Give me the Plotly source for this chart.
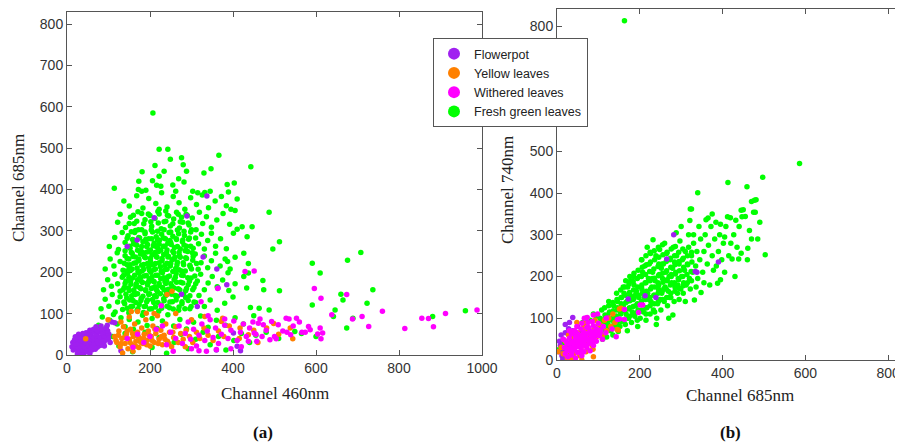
import plotly.graph_objects as go

# ---------------- Panel (a): Channel 460nm vs Channel 685nm ----------------
flowerpot_a = [
    (25,3),(32,6),(40,2),(48,8),(55,4),
    (15,12),(22,14),(30,10),(38,13),(45,11),(52,15),(60,12),(68,14),
    (12,20),(19,22),(27,18),(34,21),(42,19),(50,23),(57,20),(65,22),(73,19),(80,23),
    (14,30),(21,27),(29,29),(36,26),(44,30),(51,27),(59,31),(66,28),(74,30),(82,27),(89,31),
    (18,36),(25,38),(33,35),(40,39),(48,36),(55,40),(63,37),(70,39),(78,35),(85,38),(93,36),
    (26,45),(34,43),(42,46),(49,44),(57,47),(65,43),(72,46),(80,44),(88,47),(96,43),
    (38,52),(46,54),(54,51),(62,55),(70,52),(78,56),(86,53),(94,55),(101,50),
    (55,60),(64,62),(73,59),(82,63),(90,61),(98,58),
    (70,68),(82,70),(95,66),(28,50),(20,44),(100,40),(104,30),(90,22),(35,0),
    (337,384),(210,332),(289,336),(145,262),(169,278),(328,237),(361,208),(385,170),
    (364,162),(314,117),(276,147),(401,53),(410,21),(418,10),(108,80),(97,72),(115,78),
    (360,12),(130,10),
]

yellow_a = [
    (115,45),(120,30),(125,58),(128,20),(132,40),(136,68),(140,28),(143,50),(147,15),(150,38),
    (153,62),(157,25),(160,45),(163,75),(166,33),(170,55),(173,18),(176,40),(180,65),(183,28),
    (186,50),(190,85),(193,35),(196,58),(200,22),(203,45),(207,70),(210,30),(214,52),(218,95),
    (222,38),(226,60),(230,25),(234,48),(238,75),(242,33),(247,55),(252,20),(257,42),(262,68),
    (268,30),(274,52),(280,38),(287,60),(295,45),(303,30),(312,55),(320,40),(330,65),(340,48),
    (352,35),(365,58),(378,45),(391,70),(134,5),(159,9),(241,146),(253,154),(191,101),(155,105),
    (332,93),(375,89),(372,81),(481,65),(498,76),(544,39),(538,65),(437,49),(417,65),(45,39),
    (99,85),(262,100),(210,100),(150,92),(415,40),(460,30),(170,105),(300,85),(130,80),(285,20),
    (450,60),(510,50),
    (118,35),(124,48),(131,28),(138,42),(145,58),(152,30),(158,52),(165,22),(172,44),(178,30),
    (185,40),(192,25),(198,48),(205,35),(212,62),(220,28),(228,45),(236,38),(245,28),(255,55),
]

withered_a = [
    (988,109),(912,100),(871,88),(855,89),(883,68),(814,64),(760,106),(727,69),(711,93),(688,87),
    (674,146),(638,97),(612,137),(596,161),(610,65),(616,53),(604,51),(612,39),(582,69),(586,61),
    (566,55),(574,55),(553,89),(535,87),(528,89),(539,49),(530,55),(509,73),(493,81),(504,39),
    (489,37),(473,73),(461,77),(465,87),(451,53),(457,33),(437,33),(429,202),(451,203),(323,129),
    (363,161),(380,87),(336,9),(256,9),(318,10),(360,13),(159,19),(227,119),
    (250,55),(262,40),(270,70),(278,28),(285,52),(292,80),(298,38),(305,62),(312,22),(318,48),
    (325,75),(332,35),(338,58),(345,85),(352,42),(358,65),(365,28),(372,50),(380,72),(388,40),
    (395,60),(402,82),(410,35),(418,55),(425,75),(432,45),(440,65),(448,80),(455,50),(470,45),
    (480,60),(500,45),(520,58),(545,70),(560,80),(200,45),(215,62),(185,30),(230,70),(240,25),
    (170,50),(145,40),(420,20),(395,15),(300,15),(340,95),
]

fresh_a_outer = [
    (207,585),(222,497),(243,497),(276,477),(366,483),(443,455),(249,473),(212,458),(280,460),
    (181,443),(234,444),(288,444),(347,450),(330,440),(222,432),(269,426),(173,420),(206,421),
    (282,418),(114,403),(216,410),(226,408),(386,412),(403,416),(172,400),(180,396),(255,411),
    (303,396),(332,393),(345,396),(389,394),(137,372),(410,377),(487,345),(446,310),(122,321),
    (150,360),(168,385),(183,355),(197,378),(214,366),(228,392),(241,358),(256,383),(270,368),
    (284,352),(298,380),(312,364),(326,387),(341,356),(357,372),(372,383),(384,361),(395,352),
    (222,352),(262,396),(190,398),(315,392),(405,349),
    (128,340),(141,308),(153,333),(162,318),(171,346),(180,303),(188,327),(196,341),(204,311),
    (212,330),(219,347),(227,305),(234,322),(242,338),(249,312),(257,329),(264,345),(271,307),
    (279,321),(287,340),(294,314),(302,331),(311,303),(319,345),(327,318),(336,334),(348,309),
    (361,326),(376,342),(392,316),(410,304),(434,286),(165,301),(238,348),(276,333),
    (102,262),(115,284),(124,255),(133,296),(140,272),(147,288),(152,258),(158,279),(163,296),
    (168,265),(173,284),(178,252),(183,274),(188,293),(192,262),(197,281),(201,254),(206,297),
    (210,270),(215,286),(219,258),(223,278),(228,292),(232,263),(237,281),(241,254),(246,296),
    (250,271),(255,287),(259,260),(264,279),(269,293),(273,256),(278,274),(283,289),(288,263),
    (293,280),(298,297),(304,258),(310,283),(317,269),(324,292),(331,256),(339,277),(348,294),
    (358,263),(370,281),(384,257),(401,294),(422,310),(426,246),(160,268),(243,270),(285,252),
    (215,262),(190,280),
    (92,208),(104,232),(113,215),(121,247),(128,226),(135,205),(140,240),(145,218),(149,232),
    (153,204),(157,246),(161,222),(165,237),(169,210),(173,228),(177,244),(181,203),(185,219),
    (189,235),(193,249),(197,212),(201,227),(205,242),(209,206),(213,221),(217,236),(221,250),
    (225,213),(229,228),(233,243),(237,207),(241,222),(245,238),(249,215),(253,230),(257,247),
    (262,209),(266,224),(271,240),(276,203),(281,218),(286,235),(291,250),(297,213),(303,229),
    (309,244),(316,207),(323,223),(331,239),(339,211),(348,228),(358,246),(369,215),(381,232),
    (393,208),(405,236),(437,221),(388,199),(387,226),(200,218),(230,202),(185,241),(260,236),
    (150,212),
    (88,158),(98,182),(107,166),(115,195),(122,172),(128,154),(133,188),(138,163),(142,179),
    (146,197),(150,156),(154,171),(158,186),(162,151),(166,166),(170,182),(174,198),(178,160),
    (182,175),(186,191),(190,155),(194,169),(198,184),(202,200),(206,162),(210,177),(214,193),
    (218,153),(222,168),(226,184),(230,199),(234,158),(238,173),(243,189),(248,152),(253,166),
    (258,182),(263,197),(268,160),(274,176),(280,192),(286,155),(292,170),(299,186),(306,163),
    (314,179),(322,195),(331,158),(340,174),(350,190),(362,165),(375,181),(390,156),(405,172),
    (433,162),(426,190),(472,180),(474,158),(512,155),(196,176),(176,188),(240,180),(212,165),
    (82,112),(92,135),(101,118),(109,146),(116,104),(122,128),(128,141),(134,110),(139,124),
    (144,138),(149,102),(154,117),(159,132),(164,146),(169,108),(174,122),(179,137),(184,103),
    (189,118),(194,133),(199,148),(204,112),(209,127),(215,141),(221,106),(227,121),(233,136),
    (240,150),(247,114),(254,129),(261,144),(269,108),(277,124),(286,139),(296,112),(306,128),
    (318,144),(331,117),(345,133),(362,108),(380,125),(400,140),(442,115),(463,113),(487,109),
    (591,121),(646,109),
    (76,72),(85,92),(94,66),(103,84),(112,98),(121,75),(130,90),(140,68),(150,86),(160,62),
    (171,80),(182,96),(193,71),(205,88),(217,64),(230,82),(243,97),(257,70),(272,86),(288,63),
    (305,79),(322,94),(340,67),(360,84),(382,72),(405,90),(425,75),(450,95),(549,57),(642,93),
    (674,65),(689,89),(881,93),(960,107),
    (110,45),(125,22),(140,52),(158,8),(172,35),(188,55),(205,18),(222,42),(240,4),(258,30),
    (275,50),(292,15),(310,38),(328,55),(345,25),(365,45),(383,12),(402,35),(420,52),(440,30),
    (455,48),(480,55),(510,40),(565,52),(600,45),
    (610,198),(591,222),(512,274),(496,256),(660,147),(665,133),(676,229),(708,248),(723,125),
    (737,158),(437,198),
]

fresh_a_core = [
    (145,113),(158,118),(171,112),(186,117),(199,111),(213,116),(228,113),(241,118),(256,111),(270,116),(284,112),(299,117),
    (137,128),(151,133),(166,127),(178,132),(192,129),(206,134),(219,127),(234,131),(248,128),(263,133),(277,129),(292,132),(310,127),
    (142,147),(156,143),(170,148),(183,142),(197,146),(211,143),(225,148),(238,144),(252,147),(266,142),(281,146),(296,143),
    (135,158),(148,162),(161,157),(175,163),(189,158),(203,161),(216,157),(230,163),(244,159),(258,162),(272,157),(288,161),(303,158),
    (140,173),(153,178),(167,172),(180,177),(194,174),(208,178),(222,173),(236,177),(250,172),(264,176),(279,174),(295,178),(310,172),
    (136,192),(149,188),(163,193),(177,187),(191,192),(205,189),(219,193),(233,187),(247,191),(261,188),(276,193),(291,187),(308,191),
    (143,203),(157,208),(171,202),(185,207),(199,204),(213,208),(227,203),(241,207),(255,202),(270,206),(285,203),(300,208),
    (138,222),(152,218),(166,223),(180,217),(194,221),(208,218),(222,223),(236,217),(250,221),(265,218),(280,223),(296,217),(312,221),
    (145,233),(159,238),(173,232),(187,237),(201,234),(215,238),(229,233),(243,237),(258,232),(273,236),(288,233),(304,238),
    (140,252),(155,248),(170,253),(184,247),(198,251),(212,248),(226,253),(240,247),(255,251),(270,248),(286,253),(302,247),
    (150,263),(165,268),(180,262),(194,267),(208,264),(222,268),(236,263),(251,267),(266,262),(282,266),(298,263),
    (145,282),(160,278),(175,283),(190,277),(204,281),(218,278),(233,283),(248,277),(263,281),(279,278),(295,283),
    (155,298),(172,303),(188,297),(203,302),(218,299),(234,303),(250,297),(266,302),(282,299),(300,303),
    (150,318),(168,323),(185,317),(202,322),(220,319),(238,323),(255,317),(273,322),(292,319),
    (160,338),(180,342),(200,337),(222,341),(245,336),(268,340),(290,337),
]

fresh_a = fresh_a_outer + fresh_a_core

# ---------------- Panel (b): Channel 685nm vs Channel 740nm ----------------
flowerpot_b = [
    (5,20),(8,35),(12,10),(15,50),(18,25),(20,65),(22,5),(25,40),(28,75),(30,15),(33,55),
    (36,30),(38,70),(40,8),(14,2),(26,64),(38,102),(10,60),(45,60),(50,80),(20,85),(30,90),
    (55,45),(60,65),(18,0),(6,45),
    (282,300),(265,242),(390,235),(338,210),(334,212),(239,150),(213,154),(172,146),(123,101),
    (70,100),
]

yellow_b = [
    (2,20),(10,30),(15,15),(20,45),(25,5),(30,25),(35,2),(38,55),(42,18),(45,38),(50,65),
    (55,10),(58,30),(62,50),(65,80),(70,20),(75,40),(78,60),(82,64),(85,35),(88,8),(90,75),
    (95,55),(100,85),(105,84),(110,60),(115,95),(120,70),(125,100),(130,80),(135,110),(140,90),
    (148,72),(155,124),(66,88),(92,95),(48,90),(28,60),(72,70),(40,12),(60,0),(80,48),
    (87,26),(23,12),(151,122),(70,74),(145,73),
]

withered_b = [
    (20,15),(28,22),(35,12),(42,25),(50,18),(58,28),(65,20),(72,30),(80,22),(88,35),
    (18,30),(25,38),(32,28),(40,40),(48,32),(55,45),(62,36),(70,48),(78,40),(86,52),(95,45),
    (102,58),(22,45),(30,52),(38,44),(45,56),(53,48),(60,60),(68,52),(75,64),(83,56),(90,68),
    (98,60),(106,72),(35,62),(42,70),(50,62),(58,74),(65,66),(72,78),(80,70),(88,82),(95,75),
    (112,80),(48,80),(60,88),(75,90),(85,92),(100,88),(30,70),(15,50),(110,50),(118,65),(26,8),
    (45,5),(60,10),(40,30),(65,40),(85,42),(55,35),
    (24,26),(33,40),(44,48),(52,40),(62,48),(70,58),(78,50),(92,58),(100,70),(68,35),(82,62),
    (36,18),(56,55),(76,78),(90,50),(104,64),(46,66),(58,20),
    (66,100),(88,108),(119,100),(163,121),(146,97),(201,132),(133,74),(207,132),(197,114),
    (151,98),(143,56),(98,110),(73,102),(163,97),
]

fresh_b_outer = [
    (5,25),(10,35),(15,20),(20,40),(28,30),(35,45),(42,35),(48,55),(12,45),
    (55,50),(60,70),(65,45),(70,85),(75,60),(80,95),(85,55),(90,75),(95,105),(98,60),(62,90),
    (88,110),(72,40),
    (102,65),(105,90),(108,120),(112,75),(116,100),(120,55),(123,85),(127,115),(130,70),(133,95),
    (137,130),(140,80),(143,105),(146,140),(148,68),(110,50),(125,140),(135,60),(145,120),(150,95),
    (152,80),(154,115),(156,150),(158,95),(160,130),(162,160),(165,85),(167,110),(169,140),
    (171,175),(173,100),(175,125),(177,155),(180,90),(182,115),(184,145),(186,180),(188,105),
    (190,130),(192,165),(194,95),(196,120),(198,150),(199,200),(160,175),(170,70),(185,200),
    (195,80),(155,135),(178,190),(163,120),(189,155),
    (201,100),(203,135),(205,170),(207,210),(209,115),(211,150),(213,185),(215,95),(217,125),
    (219,160),(221,195),(223,230),(225,110),(227,140),(229,175),(231,210),(233,120),(235,155),
    (237,190),(239,250),(241,100),(243,135),(245,170),(247,205),(249,145),(204,240),(218,270),
    (232,288),(240,85),(212,225),(226,255),(246,230),(236,115),(208,160),(244,185),(222,145),
    (230,195),(215,110),(248,265),
    (251,120),(253,160),(255,195),(257,230),(259,140),(261,175),(263,210),(265,255),(267,130),
    (269,165),(271,200),(273,240),(275,150),(277,185),(279,220),(281,270),(283,140),(285,175),
    (287,210),(289,250),(291,160),(293,195),(295,230),(297,285),(299,170),(260,280),(280,108),
    (288,305),(270,100),(295,145),(252,220),(266,190),(276,205),(284,235),(292,180),(258,170),
    (272,150),
    (301,200),(303,240),(305,160),(308,215),(310,260),(312,180),(315,230),(318,300),(320,195),
    (322,170),(325,250),(328,210),(330,280),(332,144),(335,225),(338,260),(340,195),(343,320),
    (345,240),(348,162),(322,362),(325,362),(321,334),(340,401),(330,300),(310,140),(318,270),
    (300,320),(336,175),(347,290),(306,185),
    (352,210),(355,260),(358,300),(360,336),(363,230),(366,275),(369,180),(372,320),(375,250),
    (378,215),(381,290),(384,330),(388,184),(390,260),(393,300),(395,192),(398,240),(355,185),
    (365,340),(385,225),(375,350),(395,325),
    (402,280),(405,210),(408,320),(412,343),(413,425),(415,250),(419,341),(423,242),(427,300),
    (430,200),(435,270),(439,242),(440,320),(445,359),(445,256),(447,343),(450,360),(420,280),
    (432,335),(405,295),
    (455,344),(459,415),(461,268),(465,310),(470,290),(475,354),(477,383),(479,354),(481,384),
    (485,290),(490,330),(497,438),(503,252),(586,471),(163,813),(460,240),(470,380),
]

fresh_b_core = [
    (105,62),(106,80),(104,100),
    (115,72),(114,88),(116,108),(115,125),
    (125,77),(124,95),(126,112),(125,130),
    (135,82),(134,100),(136,118),(135,138),
    (145,87),(144,105),(146,125),(145,145),(144,160),
    (155,92),(154,110),(156,130),(155,150),(154,168),
    (165,98),(164,118),(166,137),(165,155),(164,175),(166,190),
    (175,105),(174,122),(176,142),(175,162),(174,182),(176,200),
    (185,110),(184,128),(186,148),(185,168),(184,188),(186,208),
    (195,115),(194,135),(196,155),(195,175),(194,195),(196,215),
    (205,120),(204,140),(206,160),(205,180),(204,200),(206,222),(205,240),
    (215,125),(214,145),(216,165),(215,185),(214,205),(216,228),(215,250),
    (225,130),(224,150),(226,170),(225,190),(224,212),(226,235),(225,258),
    (235,135),(234,155),(236,175),(235,196),(234,218),(236,240),(235,262),
    (245,140),(244,160),(246,180),(245,202),(244,224),(246,246),(245,270),
    (255,145),(254,165),(256,186),(255,208),(254,230),(256,252),(255,276),
    (265,150),(264,170),(266,192),(265,214),(264,236),(266,258),
    (275,160),(274,180),(276,200),(275,222),(274,244),(276,266),
    (285,165),(284,185),(286,206),(285,228),(284,250),(286,272),
    (295,172),(294,192),(296,214),(295,236),(294,258),
    (305,178),(304,200),(306,222),(305,244),(304,266),
    (315,185),(314,205),(316,228),(315,250),
    (325,190),(324,212),(326,235),(325,258),
]

fresh_b = fresh_b_outer + fresh_b_core

series_names = ["Flowerpot", "Yellow leaves", "Withered leaves", "Fresh green leaves"]
series_colors = ["#A020F0", "#FF8000", "#FF00FF", "#00FF00"]

x_ticks_a = [0, 200, 400, 600, 800, 1000]
y_ticks = [0, 100, 200, 300, 400, 500, 600, 700, 800]
x_ticks_b = [0, 200, 400, 600, 800]

# The page body has an 8px margin, so the figure is drawn 8px right/down.
OFF = 8
W, H = 903, 444 - OFF


def fx(px):
    return (px - OFF) / W


def fy(py):
    return 1 - (py - OFF) / H


fig = go.Figure()

panels = [
    ("x", "y", [flowerpot_a, yellow_a, withered_a, fresh_a], True),
    ("x2", "y2", [flowerpot_b, yellow_b, withered_b, fresh_b], False),
]
draw_order = [3, 0, 1, 2]  # green at bottom, withered on top
for xa, ya, data, show in panels:
    for i in draw_order:
        pts = data[i]
        fig.add_trace(go.Scatter(
            x=[p[0] for p in pts], y=[p[1] for p in pts],
            mode="markers", xaxis=xa, yaxis=ya,
            name=series_names[i], legendgroup=series_names[i], showlegend=show,
            legendrank=i + 1,
            marker=dict(color=series_colors[i], size=5.5, line=dict(width=0)),
            hoverinfo="skip",
        ))

axis_common = dict(
    showline=True, linecolor="#555555", linewidth=1, mirror="ticks",
    ticks="inside", ticklen=5, tickcolor="#555555", showgrid=False, zeroline=False,
    automargin=False,
    tickfont=dict(family="Liberation Sans, Arial", size=14, color="#333333"),
)

fig.update_layout(
    width=W, height=H,
    margin=dict(l=0, r=0, t=0, b=0, autoexpand=False),
    paper_bgcolor="white", plot_bgcolor="white",
    showlegend=True,
    xaxis=dict(domain=[fx(67), fx(482)], range=[0, 1000], tickvals=x_ticks_a, anchor="y", **axis_common),
    yaxis=dict(domain=[fy(355), fy(12)], range=[0, 829], tickvals=y_ticks, anchor="x", **axis_common),
    xaxis2=dict(domain=[fx(557), fx(903)], range=[0, 836], tickvals=x_ticks_b, anchor="y2", **axis_common),
    yaxis2=dict(domain=[fy(360), fy(9)], range=[0, 841], tickvals=y_ticks, anchor="x2", **axis_common),
    legend=dict(
        x=fx(433), y=fy(38), xanchor="left", yanchor="top",
        bgcolor="white", bordercolor="#555555", borderwidth=1,
        font=dict(family="Liberation Sans, Arial", size=12.5, color="#222222"),
        itemsizing="constant", tracegroupgap=0,
    ),
)

title_font = dict(family="Liberation Serif, Times New Roman", size=17, color="#222222")
annotations = [
    dict(text="Channel 460nm", x=fx(275), y=fy(393)),
    dict(text="Channel 685nm", x=fx(18), y=fy(188), textangle=-90),
    dict(text="Channel 685nm", x=fx(740), y=fy(395)),
    dict(text="Channel 740nm", x=fx(507), y=fy(190), textangle=-90),
]
for a in annotations:
    fig.add_annotation(xref="paper", yref="paper", showarrow=False,
                       xanchor="center", yanchor="middle", font=title_font, **a)
for txt, px in [("<b>(a)</b>", 263), ("<b>(b)</b>", 730)]:
    fig.add_annotation(text=txt, xref="paper", yref="paper", x=fx(px), y=fy(432),
                       showarrow=False, xanchor="center", yanchor="middle",
                       font=dict(family="Liberation Serif, Times New Roman", size=17, color="#111111"))

fig.write_html("out.html")
